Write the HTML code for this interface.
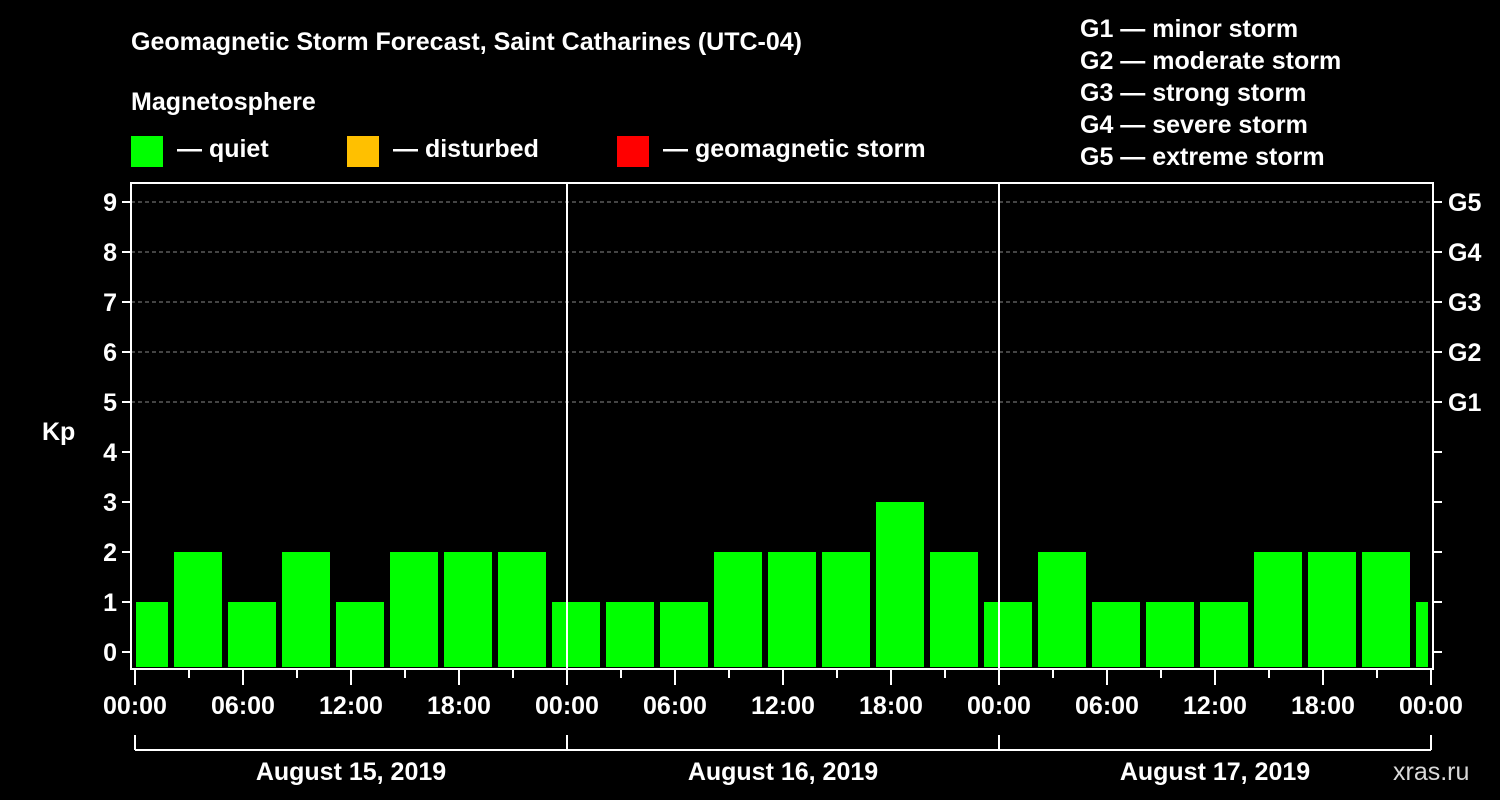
<!DOCTYPE html>
<html><head><meta charset="utf-8"><style>
html,body{margin:0;padding:0;background:#000;width:1500px;height:800px;overflow:hidden}
svg{display:block;font-family:"Liberation Sans",Arial,sans-serif;font-weight:bold}
</style></head><body>
<svg id="chart" width="1500" height="800" viewBox="0 0 1500 800">
<rect width="1500" height="800" fill="#000"/>
<text x="131" y="50" fill="#fff" font-size="25">Geomagnetic Storm Forecast, Saint Catharines  (UTC-04)</text>
<text x="131" y="110" fill="#fff" font-size="25">Magnetosphere</text>
<g><rect x="131" y="136" width="32" height="31" fill="#00ff00"/><text x="177" y="157" fill="#fff" font-size="25">— quiet</text></g>
<g><rect x="347" y="136" width="32" height="31" fill="#ffc000"/><text x="393" y="157" fill="#fff" font-size="25">— disturbed</text></g>
<g><rect x="617" y="136" width="32" height="31" fill="#ff0000"/><text x="663" y="157" fill="#fff" font-size="25">— geomagnetic storm</text></g>
<g fill="#fff" font-size="25">
<text x="1080" y="37">G1 — minor storm</text>
<text x="1080" y="69">G2 — moderate storm</text>
<text x="1080" y="101">G3 — strong storm</text>
<text x="1080" y="133">G4 — severe storm</text>
<text x="1080" y="165">G5 — extreme storm</text>
</g>
<text x="42" y="440" fill="#fff" font-size="25">Kp</text>
<text x="1393" y="780" fill="#fff" font-size="25" font-weight="normal" opacity="0.85">xras.ru</text>
<g id="plot"></g>
</svg>
<script>
const kpValues=[1,2,1,2,1,2,2,2,1,1,1,2,2,2,3,2,1,2,1,1,1,2,2,2,1];
const dayLabels=["August 15, 2019","August 16, 2019","August 17, 2019"];
const hourLabels=["00:00","06:00","12:00","18:00"];
const gLabels=["G1","G2","G3","G4","G5"];
const yTicks=[0,1,2,3,4,5,6,7,8,9];
const utcOffset=-4;
const NS="http://www.w3.org/2000/svg";
const L=131,R=1433,T=183,B=669,X0=135,pxH=18;
const xs=h=>X0+h*pxH;
const ys=v=>652-v*50;
const g=document.getElementById('plot');
function mk(tag,at,parent){const e=document.createElementNS(NS,tag);for(const k in at)e.setAttribute(k,at[k]);(parent||g).appendChild(e);return e;}
// grid lines for G levels
for(let v=5;v<=9;v++){const ln=mk('line',{x1:L,x2:R,y1:ys(v),y2:ys(v),stroke:'#888','stroke-dasharray':'4,3','stroke-width':1});

}
// bars
const xMax=xs(72)-1;
kpValues.forEach((v,i)=>{
 const h0=i*3+utcOffset+3;
 let x1=Math.max(xs(h0)+3,L+5),x2=Math.min(xs(h0+3)-3,xMax-2);
 const col=v>=5?'#ff0000':(v>=4?'#ffc000':'#00ff00');
 const r=mk('rect',{x:x1,y:ys(v),width:x2-x1,height:B-2-ys(v),fill:col});
 
 
});
// day dividers
for(let d=1;d<3;d++){const ln=mk('line',{x1:xs(24*d),x2:xs(24*d),y1:T,y2:B,stroke:'#fff','stroke-width':2});

}
// frame
const fr=mk('rect',{x:L,y:T,width:R-L,height:B-T,fill:'none',stroke:'#fff','stroke-width':2});


// y ticks
yTicks.forEach(v=>{
 mk('line',{x1:L-9,x2:L,y1:ys(v),y2:ys(v),stroke:'#fff','stroke-width':2});
 mk('line',{x1:R,x2:R+9,y1:ys(v),y2:ys(v),stroke:'#fff','stroke-width':2});
 const t=mk('text',{x:L-14,y:ys(v)+9,fill:'#fff','font-size':25,'text-anchor':'end'});t.textContent=v;
 
 
});
gLabels.forEach((s,i)=>{const t=mk('text',{x:1448,y:ys(5+i)+9,fill:'#fff','font-size':25});t.textContent=s;
 
 });
// x ticks
for(let h=0;h<=72;h+=3){const major=h%6===0;
 mk('line',{x1:xs(h),x2:xs(h),y1:B,y2:B+(major?16:9),stroke:'#fff','stroke-width':2});
 if(major && h%6===0 && (h%24)%6===0){}
}
for(let h=0;h<=72;h+=6){const t=mk('text',{x:xs(h),y:714,fill:'#fff','font-size':25,'text-anchor':'middle'});t.textContent=hourLabels[(h%24)/6];
 
 }
// date bracket
mk('line',{x1:xs(0),x2:xs(72),y1:750,y2:750,stroke:'#fff','stroke-width':2});
for(let d=0;d<=3;d++)mk('line',{x1:xs(24*d),x2:xs(24*d),y1:735,y2:750,stroke:'#fff','stroke-width':2});
dayLabels.forEach((s,d)=>{const t=mk('text',{x:xs(24*d+12),y:780,fill:'#fff','font-size':25,'text-anchor':'middle'});t.textContent=s;
 
 });
</script>
</body></html>
